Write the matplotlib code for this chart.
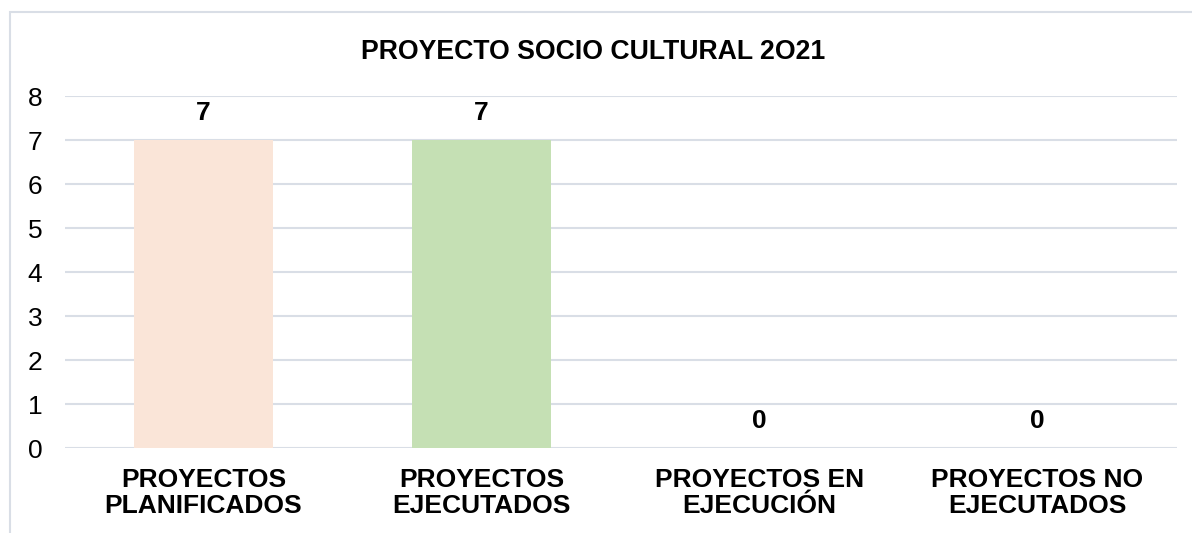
import matplotlib
matplotlib.use("Agg")
import matplotlib.pyplot as plt
from matplotlib.patches import Rectangle

categories = ["PROYECTOS\nPLANIFICADOS", "PROYECTOS\nEJECUTADOS", "PROYECTOS EN\nEJECUCIÓN", "PROYECTOS NO\nEJECUTADOS"]
values = [7, 7, 0, 0]
colors = ["#FAE5D8", "#C5E0B4", "#DAE3F3", "#FFE699"]
title = "PROYECTO SOCIO CULTURAL 2O21"

plt.rcParams['font.family'] = ['Liberation Sans', 'DejaVu Sans']

W, H = 1192, 533
fig = plt.figure(figsize=(W/100, H/100), dpi=100)
# outer frame
fig.patches.append(Rectangle((10/W, -0.1), 1.2, (533-12)/H + 0.1, transform=fig.transFigure,
                             fill=False, edgecolor="#D9DEE6", linewidth=1.5))

left, right = 64.5, 1176.5
top, bottom = 96, 448
ax = fig.add_axes([left/W, 1 - bottom/H, (right-left)/W, (bottom-top)/H])
x = list(range(len(categories)))
ax.bar(x, values, width=0.5, color=colors, zorder=3)
ax.set_xlim(-0.5, len(categories) - 0.5)
ax.set_ylim(0, 8)
ax.set_yticks(range(0, 9))
ax.yaxis.grid(True, color="#D9DEE6", linewidth=1.5, zorder=0)
ax.set_axisbelow(True)
for s in ax.spines.values():
    s.set_visible(False)
ax.tick_params(axis='both', length=0)
ax.tick_params(axis='y', labelsize=19, pad=16)
ax.set_xticks(x)
ax.set_xticklabels(categories, fontsize=19, fontweight='bold', linespacing=1.12)
ax.tick_params(axis='x', pad=14.5)
for xi, v in zip(x, values):
    ax.annotate(str(v), (xi, v), xytext=(0, 10.5), textcoords='offset points',
                ha='center', va='bottom', fontsize=19, fontweight='bold')
fig.text(593/W, 1 - 52/H, title, ha='center', va='center', fontsize=19.2, fontweight='bold')
fig.savefig("out.png", dpi=100)
